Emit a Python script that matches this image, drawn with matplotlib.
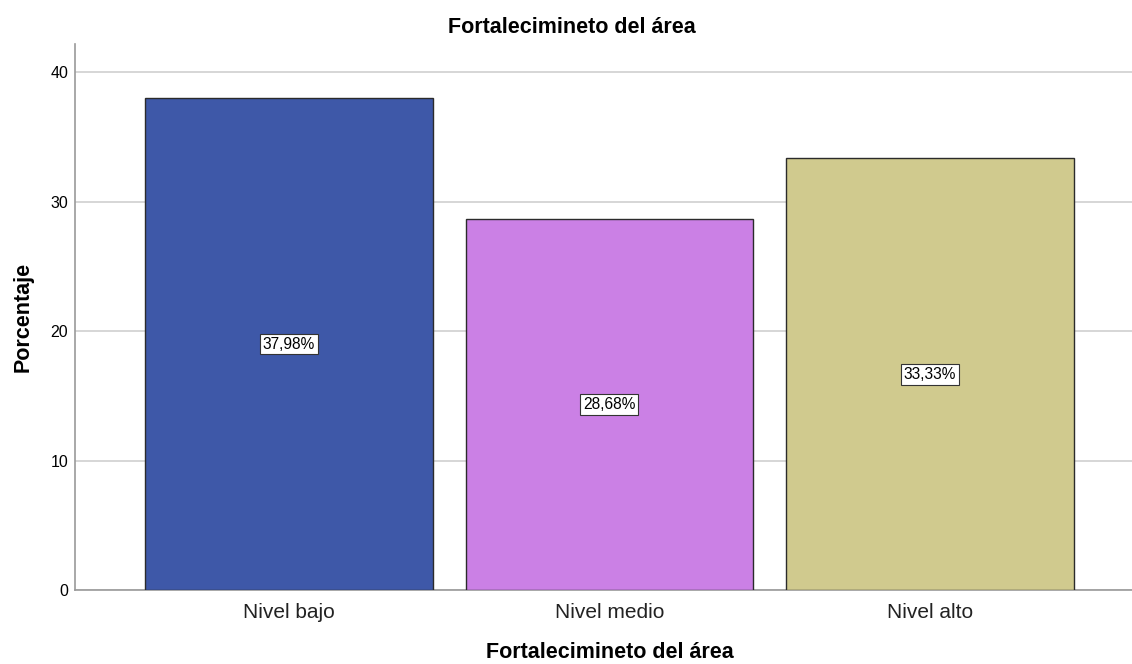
import matplotlib
matplotlib.use("Agg")
import matplotlib.pyplot as plt

# Percentages per level
categories = ["Nivel bajo", "Nivel medio", "Nivel alto"]
percentages = [37.98, 28.68, 33.33]
bar_colors = ["#3E58A8", "#CB80E5", "#D0CA8E"]
y_ticks = [0, 10, 20, 30, 40]

plt.rcParams["font.family"] = ["Liberation Sans", "DejaVu Sans"]

fig = plt.figure(figsize=(11.32, 6.64), dpi=100)
ax = fig.add_axes([0.0663, 0.1114, 0.9337, 0.8223])

x = list(range(len(categories)))
ax.bar(x, percentages, width=0.897, color=bar_colors,
       edgecolor="#2b2b2b", linewidth=1.0, zorder=3)

# value labels inside each bar, at half height
for xi, val in zip(x, percentages):
    ax.text(xi, val / 2, f"{val:.2f}%".replace(".", ","), ha="center", va="center",
            fontsize=11.2, color="black", zorder=4,
            bbox=dict(boxstyle="square,pad=0.18", facecolor="white",
                      edgecolor="#333333", linewidth=0.8))

ax.set_xlim(-0.667, 2.63)
ax.set_ylim(0, 42.16)
ax.set_yticks(y_ticks)
ax.set_xticks(x)
ax.set_xticklabels(categories, fontsize=15, color="#222222")
ax.tick_params(axis="y", labelsize=11.5, length=0, pad=5)
ax.tick_params(axis="x", length=0, pad=9)
ax.grid(axis="y", color="#d0d0d0", linewidth=1.2, zorder=0)

for side in ["top", "right"]:
    ax.spines[side].set_visible(False)
for side in ["left", "bottom"]:
    ax.spines[side].set_color("#9a9a9a")
    ax.spines[side].set_linewidth(1.2)

# chart title is centred on the whole figure
fig.text(0.505, 0.959, "Fortalecimineto del área", fontsize=15.5, fontweight="bold",
         ha="center", va="center")
# x axis title sits near the bottom edge
fig.text(0.539, 0.002, "Fortalecimineto del área", fontsize=15.5, fontweight="bold",
         ha="center", va="bottom")
ax.set_ylabel("Porcentaje", fontsize=15.5, fontweight="bold", labelpad=12)

fig.savefig("out.png", dpi=100)
